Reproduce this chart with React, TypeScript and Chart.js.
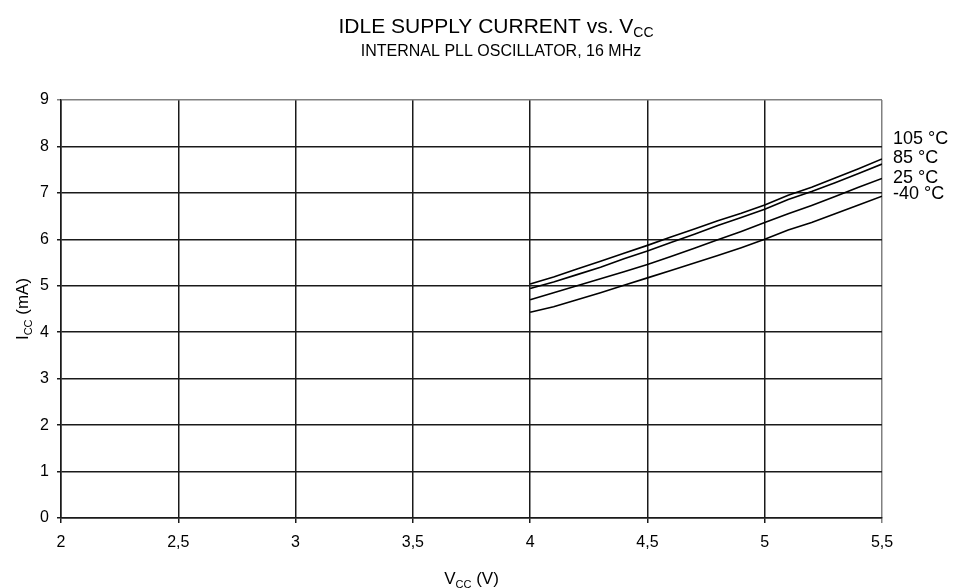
import React, { useEffect, useRef } from "react";
import { Chart, registerables } from "chart.js";

Chart.register(...registerables);

// ---- data ----
const voltages = [4.0, 4.1, 4.2, 4.3, 4.4, 4.5, 4.6, 4.7, 4.8, 4.9, 5.0, 5.1, 5.2, 5.3, 5.4, 5.5];
const seriesLabels = ["105 °C", "85 °C", "25 °C", "-40 °C"];
const icc105 = [5.04, 5.19, 5.36, 5.53, 5.7, 5.87, 6.05, 6.22, 6.4, 6.56, 6.74, 6.95, 7.12, 7.32, 7.52, 7.73];
const icc85 = [4.94, 5.08, 5.24, 5.4, 5.58, 5.75, 5.93, 6.11, 6.3, 6.47, 6.65, 6.86, 7.03, 7.22, 7.42, 7.62];
const icc25 = [4.7, 4.85, 5.0, 5.15, 5.3, 5.46, 5.63, 5.81, 5.99, 6.17, 6.36, 6.55, 6.73, 6.92, 7.12, 7.31];
const iccM40 = [4.43, 4.55, 4.7, 4.85, 5.01, 5.17, 5.33, 5.49, 5.65, 5.82, 6.0, 6.2, 6.36, 6.55, 6.74, 6.93];
const xTickValues = [2, 2.5, 3, 3.5, 4, 4.5, 5, 5.5];
const yTickValues = [0, 1, 2, 3, 4, 5, 6, 7, 8, 9];

const FONT = "'Liberation Sans', Arial, Helvetica, sans-serif";

type Part = { t: string; sub?: boolean };

function measureParts(ctx: CanvasRenderingContext2D, parts: Part[], size: number, subSize: number) {
  let w = 0;
  for (const p of parts) {
    ctx.font = `${p.sub ? subSize : size}px ${FONT}`;
    w += ctx.measureText(p.t).width;
  }
  return w;
}

function drawParts(
  ctx: CanvasRenderingContext2D,
  parts: Part[],
  x: number,
  y: number,
  size: number,
  subSize: number,
  subDrop: number
) {
  let cx = x;
  ctx.textBaseline = "alphabetic";
  ctx.textAlign = "left";
  for (const p of parts) {
    ctx.font = `${p.sub ? subSize : size}px ${FONT}`;
    ctx.fillText(p.t, cx, p.sub ? y + subDrop : y);
    cx += ctx.measureText(p.t).width;
  }
}

const textPlugin = {
  id: "textPlugin",
  afterDraw(chart: any) {
    const ctx: CanvasRenderingContext2D = chart.ctx;
    const area = chart.chartArea;
    const yScale = chart.scales.y;
    ctx.save();
    ctx.fillStyle = "#000";

    // main title
    const title: Part[] = [{ t: "IDLE SUPPLY CURRENT vs. V" }, { t: "CC", sub: true }];
    const tw = measureParts(ctx, title, 21, 14);
    drawParts(ctx, title, 496 - tw / 2, 33, 21, 14, 4);

    // subtitle
    ctx.font = `16px ${FONT}`;
    ctx.textAlign = "center";
    ctx.textBaseline = "alphabetic";
    ctx.fillText("INTERNAL PLL OSCILLATOR, 16 MHz", 501, 56);

    // x axis title
    const xt: Part[] = [{ t: "V" }, { t: "CC", sub: true }, { t: " (V)" }];
    const xw = measureParts(ctx, xt, 17, 11);
    drawParts(ctx, xt, (area.left + area.right) / 2 - xw / 2, 584, 17, 11, 4);

    // y axis title (rotated)
    const yt: Part[] = [{ t: "I" }, { t: "CC", sub: true }, { t: " (mA)" }];
    const yw = measureParts(ctx, yt, 17, 11);
    ctx.save();
    ctx.translate(28, (area.top + area.bottom) / 2);
    ctx.rotate(-Math.PI / 2);
    drawParts(ctx, yt, -yw / 2, 0, 17, 11, 4);
    ctx.restore();

    // series labels at the right edge
    const labelAnchors = [8.16, 7.74, 7.33, 6.98];
    ctx.font = `18px ${FONT}`;
    ctx.textAlign = "left";
    ctx.textBaseline = "middle";
    seriesLabels.forEach((lab, i) => {
      ctx.fillText(lab, area.right + 11, yScale.getPixelForValue(labelAnchors[i]));
    });
    ctx.restore();
  },
};

export default function App() {
  const ref = useRef<HTMLCanvasElement | null>(null);

  useEffect(() => {
    if (!ref.current) return;
    const series = [icc105, icc85, icc25, iccM40];
    const chart = new Chart(ref.current, {
      type: "line",
      data: {
        datasets: series.map((vals, i) => ({
          label: seriesLabels[i],
          data: voltages.map((v, j) => ({ x: v, y: vals[j] })),
          borderColor: "#000",
          borderWidth: 1.6,
          pointRadius: 0,
          fill: false,
          tension: 0,
        })),
      },
      options: {
        responsive: false,
        animation: false,
        layout: { padding: { left: 0, right: 73, top: 100, bottom: 0 } },
        plugins: {
          legend: { display: false },
          title: { display: false },
          tooltip: { enabled: false },
        },
        scales: {
          x: {
            type: "linear",
            min: 2,
            max: 5.5,
            afterBuildTicks: (scale: any) => {
              scale.ticks = xTickValues.map((v) => ({ value: v }));
            },
            afterFit: (scale: any) => {
              scale.height = 70;
            },
            ticks: {
              color: "#000",
              font: { family: FONT, size: 16 },
              padding: 10,
              maxRotation: 0,
              autoSkip: false,
              callback: (v: any) => String(v).replace(".", ","),
            },
            grid: {
              color: (c: any) => (c.tick && c.tick.value === 5.5 ? "#808080" : "#1a1a1a"),
              lineWidth: 1.5,
              tickLength: 5,
              drawTicks: true,
            },
            border: { display: true, color: "#1a1a1a", width: 1.5 },
          },
          y: {
            type: "linear",
            min: 0,
            max: 9,
            afterBuildTicks: (scale: any) => {
              scale.ticks = yTickValues.map((v) => ({ value: v }));
            },
            afterFit: (scale: any) => {
              scale.width = 61;
            },
            ticks: {
              color: "#000",
              font: { family: FONT, size: 16 },
              padding: 8,
              autoSkip: false,
            },
            grid: {
              color: (c: any) => (c.tick && c.tick.value === 9 ? "#808080" : "#1a1a1a"),
              lineWidth: 1.5,
              tickLength: 4,
              drawTicks: true,
            },
            border: { display: true, color: "#1a1a1a", width: 1.5 },
          },
        },
      },
      plugins: [textPlugin],
    });
    return () => chart.destroy();
  }, []);

  return (
    <div style={{ position: "absolute", left: 0, top: 0, width: 955, height: 588, background: "#fff" }}>
      <canvas ref={ref} width={955} height={588} style={{ display: "block", width: 955, height: 588 }} />
    </div>
  );
}
